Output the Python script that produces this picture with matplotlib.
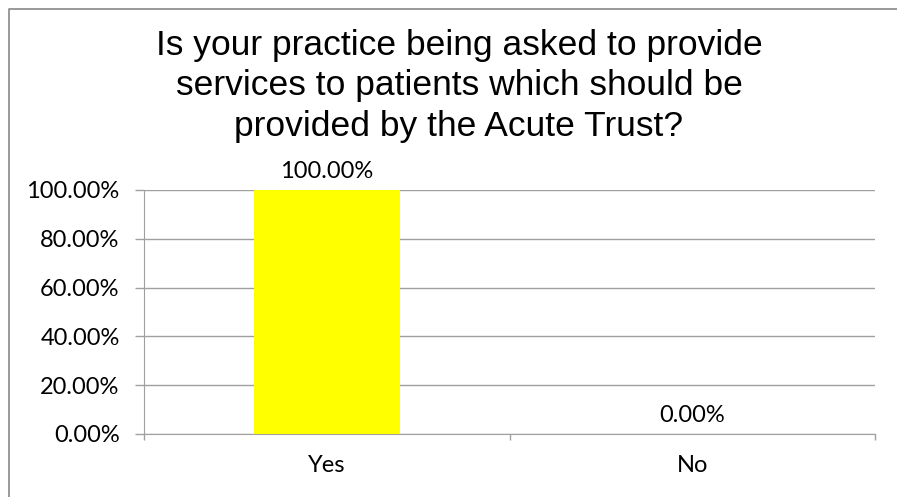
import matplotlib
matplotlib.use("Agg")
import matplotlib.pyplot as plt
from matplotlib.lines import Line2D
from matplotlib.ticker import FuncFormatter, MultipleLocator

categories = ["Yes", "No"]
values = [1.00, 0.00]
title = ("Is your practice being asked to provide\n"
         "services to patients which should be\n"
         "provided by the Acute Trust?")

W, H = 897, 497
fig = plt.figure(figsize=(W / 100, H / 100), dpi=100)

# thin gray frame, only top and left edges fall inside the picture
fx, fy = 8.5 / W, 1 - 9 / H
fig.lines.append(Line2D([fx, fx, 1.0], [0.0, fy, fy], transform=fig.transFigure,
                        color="#888888", lw=1.2))

x0, x1 = 144, 875
y0, y1 = 434, 190
ax = fig.add_axes([x0 / W, 1 - y0 / H, (x1 - x0) / W, (y0 - y1) / H])

xs = range(len(categories))
ax.bar(xs, values, width=0.4, color="#ffff00", zorder=3)
ax.set_xlim(-0.5, 1.5)
ax.set_ylim(0, 1)

ax.yaxis.set_major_locator(MultipleLocator(0.2))
ax.yaxis.set_major_formatter(FuncFormatter(lambda v, p: f"{v * 100:.2f}%"))
ax.grid(axis="y", color="#a0a0a0", lw=1, zorder=0)

ax.set_xticks([-0.5, 0.5, 1.5])
ax.set_xticklabels([])
ax.set_xticks(list(xs), minor=True)
ax.set_xticklabels(categories, minor=True)
ax.tick_params(axis="x", which="major", length=4.3, color="#a0a0a0", width=1)
ax.tick_params(axis="x", which="minor", length=0, pad=15)
ax.tick_params(axis="y", length=6.5, color="#a0a0a0", width=1, pad=11)

for sp in ["top", "right"]:
    ax.spines[sp].set_visible(False)
for sp in ["left", "bottom"]:
    ax.spines[sp].set_color("#a0a0a0")

FS = 17
for lab in ax.get_yticklabels() + ax.get_xticklabels(minor=True):
    lab.set_fontfamily("Lato")
    lab.set_fontsize(FS)

for x, v in zip(xs, values):
    ax.annotate(f"{v * 100:.2f}%", (x, v), xytext=(0, 6),
                textcoords="offset points", ha="center", va="bottom",
                family="Lato", fontsize=FS)

fig.text(459 / W, 1 - 86 / H, title, ha="center", va="center",
         family="Liberation Sans", fontsize=25.5, linespacing=1.28)

fig.savefig("out.png", dpi=100)
